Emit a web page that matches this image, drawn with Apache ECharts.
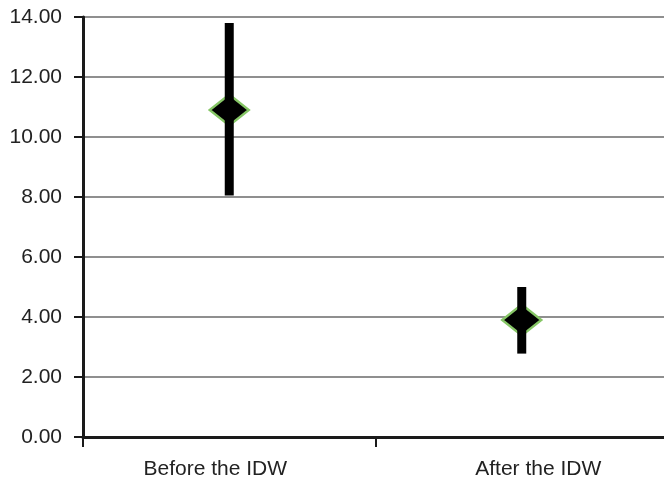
<!DOCTYPE html>
<html>
<head>
<meta charset="utf-8">
<script src="https://cdn.jsdelivr.net/npm/echarts@6/dist/echarts.min.js"></script>
<style>
  html, body { margin: 0; padding: 0; background: #fff; }
  #chart { width: 664px; height: 480px; }
</style>
</head>
<body>
<div id="chart"></div>
<script>
const categories = ['Before the IDW', 'After the IDW'];
const means = [10.9, 3.9];
const upper = [13.8, 5.0];
const lower = [8.05, 2.78];
const yTicks = { min: 0, max: 14, interval: 2 };

const chart = echarts.init(document.getElementById('chart'));

const errorData = categories.map((c, i) => [i, lower[i], upper[i]]);

// black whisker drawn from lower to upper value
function errorBar(params, api) {
  const top = api.coord([api.value(0), api.value(2)]);
  const bot = api.coord([api.value(0), api.value(1)]);
  return {
    type: 'rect',
    shape: { x: top[0] - 4.5, y: top[1], width: 9, height: bot[1] - top[1] },
    style: { fill: '#000' }
  };
}

chart.setOption({
  animation: false,
  grid: { left: 83, right: -4, top: 17, bottom: 43, containLabel: false, outerBoundsMode: 'none' },
  xAxis: {
    type: 'category',
    data: categories,
    boundaryGap: true,
    axisLine: { lineStyle: { color: '#1a1a1a', width: 3 } },
    axisTick: { show: true, alignWithLabel: false, length: 10, lineStyle: { color: '#1a1a1a', width: 2 } },
    axisLabel: {
      color: '#222', fontSize: 21, fontFamily: 'Liberation Sans, Arial', margin: 22,
      formatter: (v, i) => (i === 0 ? '{a|' + v + '}' : '{b|' + v + '}'),
      rich: {
        a: { color: '#222', fontSize: 21, fontFamily: 'Liberation Sans, Arial', padding: [0, 28, 0, 0] },
        b: { color: '#222', fontSize: 21, fontFamily: 'Liberation Sans, Arial', padding: [0, 0, 0, 33] }
      }
    },
    splitLine: { show: false }
  },
  yAxis: {
    type: 'value',
    min: yTicks.min,
    max: yTicks.max,
    interval: yTicks.interval,
    axisLine: { show: true, lineStyle: { color: '#1a1a1a', width: 3 } },
    axisTick: { show: true, length: 9, lineStyle: { color: '#1a1a1a', width: 2 } },
    axisLabel: {
      color: '#222', fontSize: 21, fontFamily: 'Liberation Sans, Arial', margin: 21,
      formatter: v => v.toFixed(2)
    },
    splitLine: { lineStyle: { color: '#8f8f8f', width: 2 } }
  },
  series: [
    {
      type: 'scatter',
      z: 3,
      symbol: 'diamond',
      symbolSize: [39, 31],
      itemStyle: { color: '#000', opacity: 1, borderColor: '#86c666', borderWidth: 2.5 },
      data: means
    },
    {
      type: 'custom',
      z: 4,
      renderItem: errorBar,
      encode: { x: 0, y: [1, 2] },
      data: errorData
    }
  ]
});
</script>
</body>
</html>
